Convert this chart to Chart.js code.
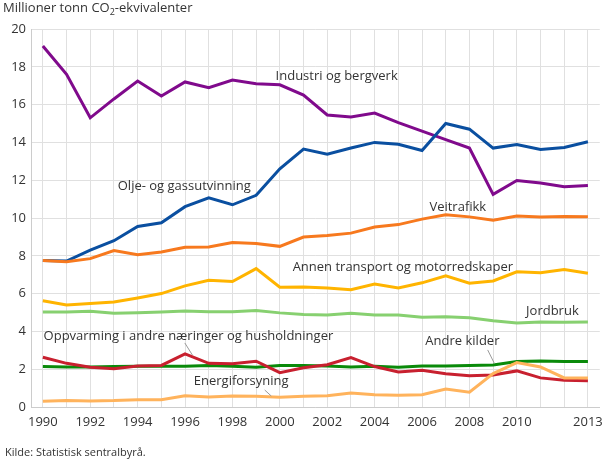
<!DOCTYPE html>
<html lang="no">
<head>
    <meta charset="UTF-8">
    <title>Utslipp av klimagasser</title>
    <style>
        body {
            margin: 0;
            font-family: "Open Sans", sans-serif;
            background: #fff;
        }
        .wrap {
            position: relative;
            width: 610px;
            height: 461px;
        }
        .unit {
            position: absolute;
            left: 3px;
            top: -2px;
            font-size: 13px;
            color: #333;
        }
        .unit sub {
            font-size: 9px;
            vertical-align: -3px;
            line-height: 0;
        }
        .source {
            position: absolute;
            left: 5px;
            top: 444px;
            font-size: 11px;
            color: #333;
        }
    </style>
</head>
<body>
    <div class="wrap">
        <canvas id="chart" width="610" height="461"></canvas>
        <div class="unit">Millioner tonn CO<sub>2</sub>-ekvivalenter</div>
        <div class="source">Kilde: Statistisk sentralbyrå.</div>
    </div>

    <script src="https://cdn.jsdelivr.net/npm/chart.js"></script>
    <script>
        // years 1990-2013
        const years = [1990, 1991, 1992, 1993, 1994, 1995, 1996, 1997, 1998, 1999, 2000, 2001,
                       2002, 2003, 2004, 2005, 2006, 2007, 2008, 2009, 2010, 2011, 2012, 2013];
        const yTicks = [0, 2, 4, 6, 8, 10, 12, 14, 16, 18, 20];

        const industri = [19.1, 17.6, 15.3, 16.3, 17.25, 16.45, 17.2, 16.9, 17.3, 17.1, 17.05, 16.5,
                          15.45, 15.35, 15.55, 15.05, 14.6, 14.15, 13.7, 11.25, 11.98, 11.85, 11.65, 11.72];
        const olje = [7.75, 7.72, 8.3, 8.8, 9.55, 9.75, 10.6, 11.07, 10.7, 11.2, 12.6, 13.65,
                      13.38, 13.7, 14.0, 13.9, 13.57, 15.0, 14.7, 13.7, 13.89, 13.62, 13.73, 14.03];
        const veitrafikk = [7.75, 7.68, 7.85, 8.28, 8.06, 8.2, 8.45, 8.47, 8.7, 8.65, 8.5, 8.99,
                            9.07, 9.2, 9.52, 9.65, 9.94, 10.17, 10.06, 9.88, 10.1, 10.05, 10.08, 10.06];
        const annenTransport = [5.62, 5.4, 5.47, 5.56, 5.77, 6.0, 6.41, 6.71, 6.64, 7.32, 6.34, 6.35,
                                6.3, 6.2, 6.51, 6.3, 6.57, 6.94, 6.55, 6.67, 7.15, 7.1, 7.27, 7.08];
        const jordbruk = [5.03, 5.03, 5.06, 4.96, 4.99, 5.03, 5.08, 5.04, 5.04, 5.1, 4.98, 4.89,
                          4.87, 4.96, 4.87, 4.87, 4.75, 4.77, 4.72, 4.56, 4.45, 4.5, 4.48, 4.5];
        const oppvarming = [2.63, 2.31, 2.1, 2.03, 2.17, 2.2, 2.81, 2.31, 2.29, 2.42, 1.82, 2.08,
                            2.24, 2.61, 2.14, 1.85, 1.94, 1.76, 1.66, 1.69, 1.91, 1.54, 1.41, 1.39];
        const andreKilder = [2.14, 2.12, 2.12, 2.14, 2.15, 2.15, 2.15, 2.2, 2.15, 2.1, 2.19, 2.19,
                             2.17, 2.12, 2.15, 2.1, 2.17, 2.17, 2.19, 2.22, 2.41, 2.43, 2.41, 2.41];
        const energiforsyning = [0.3, 0.34, 0.32, 0.34, 0.39, 0.39, 0.6, 0.53, 0.58, 0.57, 0.51, 0.57,
                                 0.6, 0.74, 0.65, 0.62, 0.65, 0.95, 0.78, 1.77, 2.35, 2.12, 1.54, 1.54];

        // series labels placed in the plot (x as category index, y as value)
        const labels = [
            { text: 'Industri og bergverk', x: 9.82, y: 17.49 },
            { text: 'Olje- og gassutvinning', x: 3.16, y: 11.67 },
            { text: 'Veitrafikk', x: 16.31, y: 10.57 },
            { text: 'Annen transport og motorredskaper', x: 10.54, y: 7.40 },
            { text: 'Jordbruk', x: 20.39, y: 5.07 },
            { text: 'Oppvarming i andre næringer og husholdninger', x: 0.03, y: 3.76 },
            { text: 'Andre kilder', x: 16.14, y: 3.46 },
            { text: 'Energiforsyning', x: 6.37, y: 1.34 }
        ];
        const leaders = [
            { x1: 5.99, y1: 3.39, x2: 6.31, y2: 2.75 },
            { x1: 9.36, y1: 0.90, x2: 9.64, y2: 0.58 },
            { x1: 18.77, y1: 3.02, x2: 19.05, y2: 2.31 }
        ];

        const seriesLabels = {
            id: 'seriesLabels',
            afterDatasetsDraw(chart) {
                const ctx = chart.ctx;
                const xs = chart.scales.x, ys = chart.scales.y;
                ctx.save();
                ctx.strokeStyle = '#999';
                ctx.lineWidth = 1;
                leaders.forEach(l => {
                    ctx.beginPath();
                    ctx.moveTo(xs.getPixelForValue(l.x1), ys.getPixelForValue(l.y1));
                    ctx.lineTo(xs.getPixelForValue(l.x2), ys.getPixelForValue(l.y2));
                    ctx.stroke();
                });
                ctx.font = '13px "Open Sans"';
                ctx.fillStyle = '#333';
                ctx.textAlign = 'left';
                ctx.textBaseline = 'middle';
                labels.forEach(l => {
                    ctx.fillText(l.text, xs.getPixelForValue(l.x), ys.getPixelForValue(l.y));
                });
                ctx.restore();
            }
        };

        function line(data, color) {
            return {
                data: data,
                borderColor: color,
                backgroundColor: color,
                borderWidth: 3,
                pointRadius: 0,
                tension: 0,
                fill: false
            };
        }

        new Chart(document.getElementById('chart'), {
            type: 'line',
            data: {
                labels: years,
                datasets: [
                    line(energiforsyning, '#ffb35c'),
                    line(oppvarming, '#c8202f'),
                    line(andreKilder, '#0a8a0a'),
                    line(jordbruk, '#87d070'),
                    line(annenTransport, '#ffb400'),
                    line(veitrafikk, '#f7791e'),
                    line(olje, '#0a4fa0'),
                    line(industri, '#800a8c')
                ]
            },
            options: {
                responsive: false,
                animation: false,
                layout: { padding: { top: 29, right: 10, left: 0, bottom: 30 } },
                plugins: {
                    legend: { display: false },
                    tooltip: { enabled: false }
                },
                scales: {
                    x: {
                        offset: true,
                        grid: { color: '#e0e0e0', offset: false, drawTicks: false },
                        border: { color: '#cccccc' },
                        ticks: {
                            autoSkip: false,
                            maxRotation: 0,
                            padding: 7,
                            color: '#333',
                            font: { family: 'Open Sans', size: 13 },
                            callback: function (v, i) {
                                const y = years[i];
                                return (y % 2 === 0 && y <= 2010) || y === 2013 ? String(y) : '';
                            }
                        },
                        afterFit(scale) { scale.height = 24; }
                    },
                    y: {
                        min: 0,
                        max: 20,
                        afterBuildTicks(scale) { scale.ticks = yTicks.map(v => ({ value: v })); },
                        grid: { color: '#e0e0e0', drawTicks: false },
                        border: { color: '#cccccc' },
                        ticks: {
                            padding: 5,
                            color: '#333',
                            font: { family: 'Open Sans', size: 13 }
                        },
                        afterFit(scale) { scale.width = 31; }
                    }
                }
            },
            plugins: [seriesLabels]
        });
    </script>
</body>
</html>
